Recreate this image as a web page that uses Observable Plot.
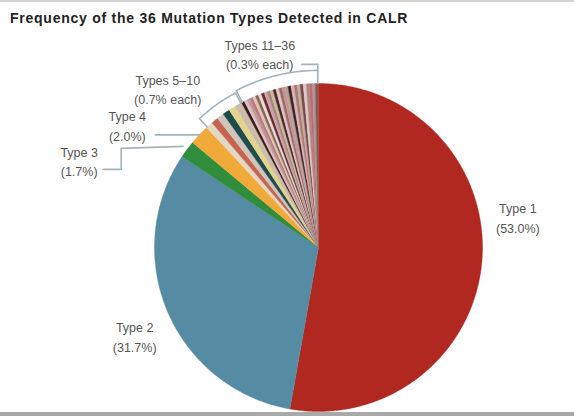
<!DOCTYPE html>
<html><head><meta charset="utf-8">
<script src="https://cdn.jsdelivr.net/npm/d3@7"></script>
<script src="https://cdn.jsdelivr.net/npm/@observablehq/plot@0.6"></script>
<style>
body{margin:0;background:#fff;}
#wrap{width:574px;height:416px;box-sizing:border-box;border-top:2px solid #d4d4d4;border-bottom:4px solid #a9a9a9;overflow:hidden;}
#title{height:24px;font:bold 14px "Liberation Sans",Arial,sans-serif;letter-spacing:0.75px;color:#222;padding-left:10px;line-height:14px;padding-top:9px;box-sizing:border-box;white-space:nowrap;}
#chart svg{display:block;}
</style></head><body>
<div id="wrap"><div id="title">Frequency of the 36 Mutation Types Detected in CALR</div><div id="chart"></div></div>
<script>
// ---- data ----
const groupLabels   = ["Type 1", "Type 2", "Type 3", "Type 4", "Types 5–10", "Types 11–36"];
const groupPercents = [53.0, 31.7, 1.7, 2.0, 0.7, 0.3];   // percent per mutation type
const groupSizes    = [1, 1, 1, 1, 6, 26];                // number of mutation types in group
const groupTexts    = ["(53.0%)", "(31.7%)", "(1.7%)", "(2.0%)", "(0.7% each)", "(0.3% each)"];

// ---- styles ----
const mainColors = ["#b0281f", "#568ca3", "#2f8d3b", "#f1a93a"];
const smallColors = [
  "#e4d8c4", "#c6654f", "#cfc5bb", "#1d4c4e", "#e5d38d", "#c9bcaa",
  "#3a1d18", "#e4bccb", "#b9a08d", "#c2728e", "#d9cba9", "#8c6657", "#eadada",
  "#5e3431", "#d79fb1", "#a48a79", "#cab99f", "#4b2b29", "#e2c2ca", "#987060",
  "#c98fa2", "#b3a38f", "#3f2220", "#d9b2c1", "#a97a6a", "#c2aba2", "#7a4a48",
  "#e0c8d0", "#b08878", "#c06a82", "#a89888", "#8a5552"
];

const slices = [];
groupLabels.forEach((g, i) => {
  for (let k = 0; k < groupSizes[i]; k++) slices.push({group: g, gi: i, k, value: groupPercents[i]});
});
const arcs = d3.pie().sort(null).value(d => d.value)(slices);
let si = 0;
arcs.forEach(a => { a.color = a.data.gi < 4 ? mainColors[a.data.gi] : smallColors[si++]; });

const R = 164; // px per data unit
const polar = (a, r) => ({x: r * Math.sin(a), y: r * Math.cos(a)});
const off = (p, dx, dy) => ({x: p.x + dx / R, y: p.y - dy / R});

function wedge(a) {
  const pts = [{x: 0, y: 0}];
  const n = Math.max(2, Math.ceil((a.endAngle - a.startAngle) / 0.01));
  for (let i = 0; i <= n; i++) pts.push(polar(a.startAngle + (a.endAngle - a.startAngle) * i / n, 1));
  pts.push({x: 0, y: 0});
  return pts;
}

const grp = groupLabels.map((g, i) => {
  const as = arcs.filter(a => a.data.gi === i);
  const s = as[0].startAngle, e = as[as.length - 1].endAngle;
  return {s, e, m: (s + e) / 2};
});

const marks = [];
arcs.forEach(a => {
  marks.push(Plot.line(wedge(a), {x: "x", y: "y", fill: a.color, stroke: a.color, strokeWidth: 0.4, curve: "linear"}));
});

const lineStyle = {x: "x", y: "y", stroke: "#a3b4bb", strokeWidth: 1.6, fill: "none", curve: "linear"};
const txt = {fontSize: 12.5, fill: "#555", fontFamily: "Liberation Sans, Arial, sans-serif", lineHeight: 1.55};

{
  const p = polar(grp[0].m, 1);
  marks.push(Plot.text([p], {x: "x", y: "y", text: () => groupLabels[0] + "\n" + groupTexts[0], dx: 36, dy: -45, ...txt}));
}
{
  const p = polar(grp[1].m, 1);
  marks.push(Plot.text([p], {x: "x", y: "y", text: () => groupLabels[1] + "\n" + groupTexts[1], dx: -33, dy: 24, ...txt}));
}
{
  const p = polar(grp[2].m, 1.03);
  const p1 = off(p, -62, 2), p2 = off(p1, 0, 21), p3 = off(p2, -18, 0);
  marks.push(Plot.line([p, p1, p2, p3], lineStyle));
  marks.push(Plot.text([p], {x: "x", y: "y", text: () => groupLabels[2] + "\n" + groupTexts[2], dx: -104, dy: 14, ...txt}));
}
{
  const p = polar(grp[3].m, 1.0);
  const p1 = off(p, -44, 0);
  marks.push(Plot.line([p, p1], lineStyle));
  marks.push(Plot.text([p], {x: "x", y: "y", text: () => groupLabels[3] + "\n" + groupTexts[3], dx: -72, dy: -10, ...txt}));
}
function bracket(g, r0, r1) {
  const pts = [polar(g.s, r0)];
  const n = Math.ceil((g.e - g.s) / 0.01);
  for (let i = 0; i <= n; i++) pts.push(polar(g.s + (g.e - g.s) * i / n, r1));
  pts.push(polar(g.e, r0));
  return pts;
}
{
  const g = grp[4];
  marks.push(Plot.line(bracket({s: g.s + 0.005, e: g.e - 0.005}, 1.0, 1.07), lineStyle));
  const p = polar(g.s, 1.07);
  marks.push(Plot.text([p], {x: "x", y: "y", text: () => groupLabels[4] + "\n" + groupTexts[4], dx: -31, dy: -31, ...txt}));
}
{
  const g = grp[5];
  marks.push(Plot.line(bracket({s: g.s + 0.005, e: g.e - 0.004}, 1.0, 1.08), lineStyle));
  const top = polar(g.e - 0.004, 1.08);
  const t1 = off(top, 0, -6), t2 = off(t1, -16, 0);
  marks.push(Plot.line([top, t1, t2], lineStyle));
  marks.push(Plot.text([top], {x: "x", y: "y", text: () => groupLabels[5] + "\n" + groupTexts[5], dx: -58, dy: -17, ...txt}));
}

const chart = Plot.plot({
  width: 574,
  height: 386,
  marginLeft: 154,
  marginRight: 92,
  marginTop: 57,
  marginBottom: 1,
  x: {domain: [-1, 1], axis: null},
  y: {domain: [-1, 1], axis: null},
  style: {background: "#fff", overflow: "visible"},
  marks
});
document.getElementById("chart").appendChild(chart);
</script>
</body></html>
